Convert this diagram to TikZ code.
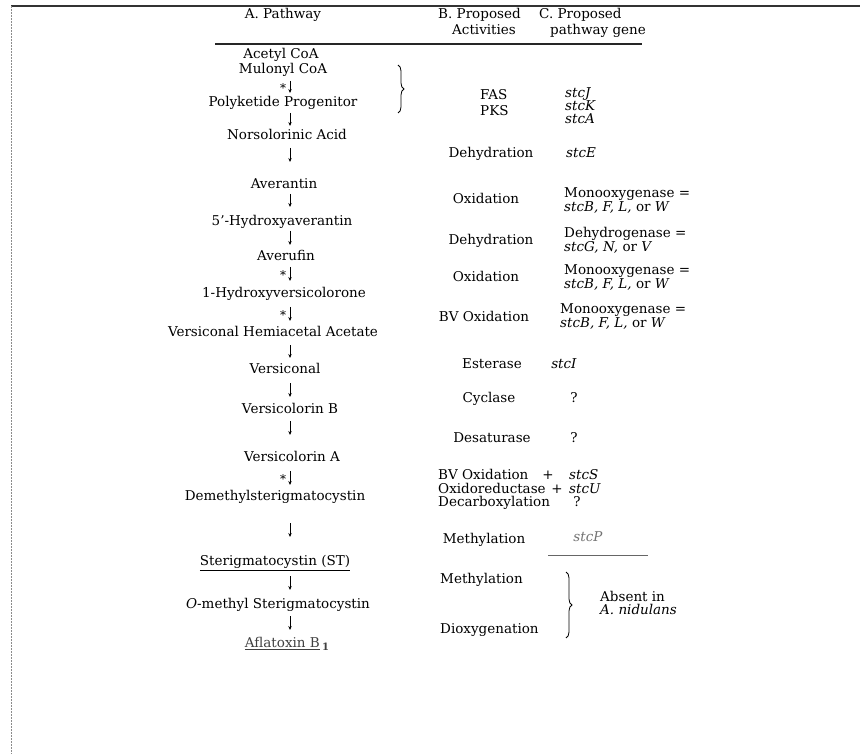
\documentclass[tikz,border=0pt]{standalone}
\usepackage{fontspec}
\setmainfont{DejaVu Serif}
\usetikzlibrary{arrows.meta,decorations.pathreplacing}
\begin{document}
\begin{tikzpicture}[x=1pt,y=-1pt,
  txt/.style={inner sep=0pt,text height=9.5pt,text depth=2.5pt,font=\fontsize{13.5}{14}\selectfont},
  cmp/.style={txt,anchor=center},
  actc/.style={txt,anchor=center},
  actw/.style={txt,anchor=west},
  genew/.style={txt,anchor=west},
  genec/.style={txt,anchor=center},
  arr/.style={-{Stealth[length=4pt,width=3.4pt]},line width=0.7pt},
  star/.style={inner sep=0pt,font=\fontsize{12}{12}\selectfont},
  brc/.style={decorate,decoration={brace,amplitude=6pt},line width=0.8pt},
  rulebar/.style={line width=1.3pt,black!85}]
\useasboundingbox (0,0) rectangle (860,754);
% frame
\draw[black!80,line width=1.6pt] (11,6) -- (860,6);
\draw[black!45,line width=0.8pt,dash pattern=on 2pt off 1pt] (11,6) -- (11,754);
% header
\node[cmp] (hA) at (283,15) {A.\ Pathway};
\node[actw] (hB1) at (438,15) {B.\ Proposed};
\node[actw] (hB2) at (452,31) {Activities};
\node[actw] (hC1) at (539,15) {C.\ Proposed};
\node[actw] (hC2) at (550,31) {pathway gene};
\draw[rulebar] (215,44) -- (642,44);
% compounds
\node[cmp] (c1) at (281,55) {Acetyl CoA};
\node[cmp] (c2) at (283,70) {Mulonyl CoA};
\node[cmp] (c3) at (283,103) {Polyketide Progenitor};
\node[cmp] (c4) at (287,136) {Norsolorinic Acid};
\node[cmp] (c5) at (284,185) {Averantin};
\node[cmp] (c6) at (282,222) {5'-Hydroxyaverantin};
\node[cmp] (c7) at (286,257) {Averufin};
\node[cmp] (c8) at (284,294) {1-Hydroxyversicolorone};
\node[cmp] (c9) at (273,333) {Versiconal Hemiacetal Acetate};
\node[cmp] (c10) at (285,370) {Versiconal};
\node[cmp] (c11) at (290,410) {Versicolorin B};
\node[cmp] (c12) at (292,458) {Versicolorin A};
\node[cmp] (c13) at (275,497) {Demethylsterigmatocystin};
\node[cmp] (c14) at (275,562) {\underline{Sterigmatocystin (ST)}};
\node[cmp] (c15) at (278,605) {\textit{O}-methyl Sterigmatocystin};
\node[cmp,text=black!75] (c16) at (287,644) {\underline{Aflatoxin B}\,\raisebox{-3pt}{\textbf{\fontsize{10}{10}\selectfont 1}}};
% arrows
\foreach \n/\ya/\yb in {a2/81/93,a3/113/126,a4/148/162,a5/194/207,a6/231/245,a7/267/281,a8/307/321,a9/345/358,a10/383/397,a11/421/435,a12/471/485,a13/523/537,a14/576/590,a15/616/630}{
  \coordinate (\n s) at (290,\ya);
  \coordinate (\n e) at (290,\yb);
  \draw[arr] (\n s) -- (\n e);
}
\node[star] (s1) at (283,88) {*};
\node[star] (s2) at (283,275) {*};
\node[star] (s3) at (283,315) {*};
\node[star] (s4) at (283,479) {*};
% braces
\coordinate (b1t) at (398,65);
\coordinate (b1b) at (398,113);
\draw[brc] (b1t) -- (b1b);
\coordinate (b2t) at (566,572);
\coordinate (b2b) at (566,638);
\draw[brc] (b2t) -- (b2b);
% activities
\node[actw] (fas) at (480,96) {FAS};
\node[actw] (pks) at (480,112) {PKS};
\node[actc] (d1) at (491,154) {Dehydration};
\node[actc] (o1) at (486,200) {Oxidation};
\node[actc] (d2) at (491,241) {Dehydration};
\node[actc] (o2) at (486,278) {Oxidation};
\node[actc] (bv1) at (484,318) {BV Oxidation};
\node[actc] (est) at (492,365) {Esterase};
\node[actc] (cyc) at (489,399) {Cyclase};
\node[actc] (des) at (492,439) {Desaturase};
\node[actw] (bv2) at (438,476) {BV Oxidation};
\node[actw] (oxr) at (438,490) {Oxidoreductase};
\node[actw] (dec) at (438,503) {Decarboxylation};
\node[actc] (pl3) at (548,476) {+};
\node[actc] (pl4) at (557,490) {+};
\node[actc] (me1) at (484,540) {Methylation};
\node[actw] (me2) at (440,580) {Methylation};
\node[actw] (dio) at (440,630) {Dioxygenation};
% genes
\node[genew] (gJ) at (565,94) {\textit{stcJ}};
\node[genew] (gK) at (565,107) {\textit{stcK}};
\node[genew] (gA) at (565,120) {\textit{stcA}};
\node[genew] (gE) at (566,154) {\textit{stcE}};
\node[genew] (m1a) at (564,194) {Monooxygenase =};
\node[genew] (m1b) at (564,208) {\textit{stcB, F, L,} or \textit{W}};
\node[genew] (h1a) at (564,234) {Dehydrogenase =};
\node[genew] (h1b) at (564,248) {\textit{stcG, N,} or \textit{V}};
\node[genew] (m2a) at (564,271) {Monooxygenase =};
\node[genew] (m2b) at (564,285) {\textit{stcB, F, L,} or \textit{W}};
\node[genew] (m3a) at (560,310) {Monooxygenase =};
\node[genew] (m3b) at (560,324) {\textit{stcB, F, L,} or \textit{W}};
\node[genec] (gI) at (564,365) {\textit{stcI}};
\node[genec] (q1) at (574,399) {?};
\node[genec] (q2) at (574,439) {?};
\node[genew] (gS) at (569,476) {\textit{stcS}};
\node[genew] (gU) at (569,490) {\textit{stcU}};
\node[genec] (q3) at (577,503) {?};
\node[genec,text=black!55] (gP) at (588,538) {\textit{stcP}};
\coordinate (pl1) at (548,555);
\coordinate (pl2) at (648,555);
\draw[black!60,line width=1pt] (pl1) -- (pl2);
\node[genew] (ab1) at (600,598) {Absent in};
\node[genew] (ab2) at (600,611) {\textit{A.\ nidulans}};
\end{tikzpicture}
\end{document}
